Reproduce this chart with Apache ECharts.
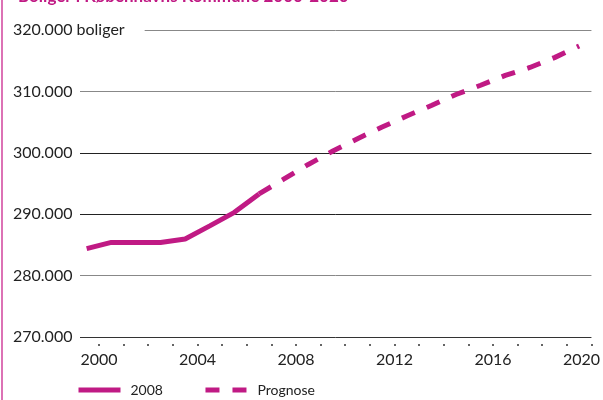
<!DOCTYPE html>
<html>
<head>
<meta charset="utf-8">
<script src="https://cdn.jsdelivr.net/npm/echarts@6/dist/echarts.min.js"></script>
<style>
  body { margin: 0; background: #fff; }
  #wrap { position: relative; width: 603px; height: 400px; }
  #edge { position: absolute; left: 1px; top: 0; width: 2px; height: 400px; background: #dc72b5; }
  #main { position: absolute; left: 0; top: 0; width: 603px; height: 400px; }
</style>
</head>
<body>
<div id="wrap">
  <div id="main"></div>
  <div id="edge"></div>
</div>
<script>
// tick + label positions on the year axis
var tickYears = [2000, 2001, 2002, 2003, 2004, 2005, 2006, 2007, 2008, 2009, 2010,
                 2011, 2012, 2013, 2014, 2015, 2016, 2017, 2018, 2019, 2020];
var labelYears = [2000, 2004, 2008, 2012, 2016, 2020];

// registered dwellings (solid line)
var histYears  = [1999.5, 2000.5, 2001.5, 2002.5, 2003.5, 2004.5, 2005.5, 2006.5];
var histValues = [284400, 285400, 285400, 285400, 285960, 288100, 290300, 293300];

// forecast (dashed line)
var progYears  = [2006.5, 2007.5, 2008.5, 2009.5, 2010.5, 2011.5, 2012.5,
                  2013.5, 2014.5, 2015.5, 2016.5, 2017.5, 2018.5, 2019.5];
var progValues = [293300, 295700, 298100, 300300, 302300, 304200, 306000,
                  307700, 309500, 311000, 312600, 313900, 315500, 317400];

var pink = '#c01a84';
var font = 'Lato';

function pairs(xs, ys) {
    return xs.map(function (x, i) { return [x, ys[i]]; });
}

var myChart = echarts.init(document.getElementById('main'));
myChart.setOption({
    animation: false,
    title: {
        text: 'Boliger i Københavns Kommune 2000-2020',
        left: 13,
        top: -17,
        textStyle: { color: pink, fontFamily: font, fontSize: 17, fontWeight: 'bold' }
    },
    legend: {
        left: 76,
        top: 383,
        padding: 0,
        itemWidth: 42,
        itemHeight: 14,
        itemGap: 40,
        itemStyle: { opacity: 0 },
        lineStyle: { width: 5 },
        textStyle: { color: '#222', fontFamily: font, fontSize: 14, padding: [0, 0, 0, 5] },
        data: ['2008', 'Prognose']
    },
    grid: { left: 80, right: 11, top: 30, bottom: 63 },
    xAxis: {
        type: 'value',
        min: 1999.23,
        max: 2020,
        axisLine: { show: false },
        splitLine: { show: false },
        axisTick: {
            show: true,
            customValues: tickYears,
            length: 9,
            lineStyle: { color: '#333', width: 1.5, type: [0, 7, 2] }
        },
        axisLabel: {
            customValues: labelYears,
            margin: 15,
            color: '#222',
            fontFamily: font,
            fontSize: 16,
            formatter: function (v) {
                return v === 2020 ? '{last|2020}' : String(v);
            },
            rich: {
                last: { padding: [0, 20, 0, 0], color: '#222', fontFamily: font, fontSize: 16 }
            }
        }
    },
    yAxis: [{
        type: 'value',
        min: 270000,
        max: 320000,
        interval: 10000,
        axisLine: { show: false },
        axisTick: { show: false },
        splitLine: {
            lineStyle: { color: ['#333', '#888', '#222', '#222', '#888', '#888'], width: 1 }
        },
        axisLabel: {
            align: 'left',
            margin: 67,
            color: '#222',
            fontFamily: font,
            fontSize: 16,
            formatter: function (v) {
                return v === 320000 ? '' : (v / 1000).toFixed(3);
            }
        }
    }, {
        type: 'value',
        position: 'left',
        min: 270000,
        max: 320000,
        interval: 10000,
        z: 5,
        axisLine: { show: false },
        axisTick: { show: false },
        splitLine: { show: false },
        axisLabel: {
            align: 'left',
            margin: 67,
            formatter: function (v) {
                return v === 320000 ? '{top|' + (v / 1000).toFixed(3) + ' boliger}' : '';
            },
            rich: {
                top: {
                    backgroundColor: '#fff',
                    padding: [3, 20, 3, 0],
                    color: '#222',
                    fontFamily: font,
                    fontSize: 16
                }
            }
        }
    }],
    series: [{
        name: '2008',
        type: 'line',
        symbol: 'none',
        lineStyle: { color: pink, width: 5 },
        itemStyle: { color: pink },
        data: pairs(histYears, histValues)
    }, {
        name: 'Prognose',
        type: 'line',
        symbol: 'none',
        lineStyle: { color: pink, width: 5, type: [14, 13] },
        itemStyle: { color: pink },
        data: pairs(progYears, progValues)
    }]
});
</script>
</body>
</html>
